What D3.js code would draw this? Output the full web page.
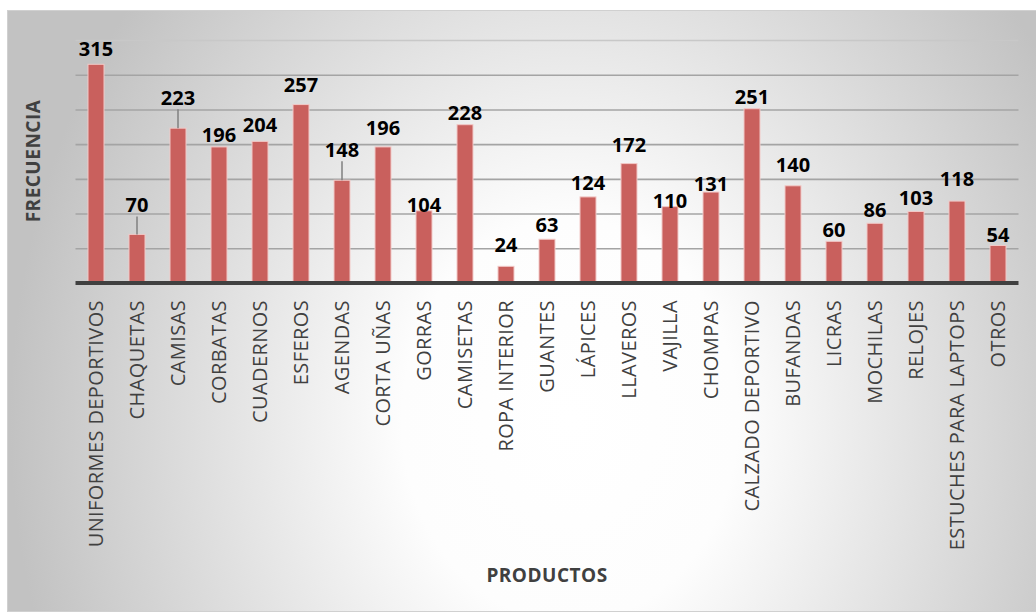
<!DOCTYPE html>
<html>
<head>
<meta charset="utf-8">
<script src="https://cdn.jsdelivr.net/npm/d3@7"></script>
<style>
  html, body { margin: 0; padding: 0; background: #ffffff; }
  svg { display: block; }
</style>
</head>
<body>
<svg id="chart" width="1036" height="614"></svg>
<script>
// Frecuencia de productos
const categories = [
  "UNIFORMES DEPORTIVOS", "CHAQUETAS", "CAMISAS", "CORBATAS", "CUADERNOS",
  "ESFEROS", "AGENDAS", "CORTA UÑAS", "GORRAS", "CAMISETAS", "ROPA INTERIOR",
  "GUANTES", "LÁPICES", "LLAVEROS", "VAJILLA", "CHOMPAS", "CALZADO DEPORTIVO",
  "BUFANDAS", "LICRAS", "MOCHILAS", "RELOJES", "ESTUCHES PARA LAPTOPS", "OTROS"
];
const frecuencia = [
  315, 70, 223, 196, 204, 257, 148, 196, 104, 228, 24,
  63, 124, 172, 110, 131, 251, 140, 60, 86, 103, 118, 54
];
const gridTicks = [50, 100, 150, 200, 250, 300, 350];
const xTitle = "PRODUCTOS";
const yTitle = "FRECUENCIA";

// layout
const plot = { left: 75.5, right: 1018.5, top: 40, bottom: 283 };

// distance (px) between bar top and label baseline; labels with a leader line are lifted further
const labelGap = {
  "UNIFORMES DEPORTIVOS": 8, "CHAQUETAS": 22, "CAMISAS": 23, "CORBATAS": 5,
  "CUADERNOS": 9, "ESFEROS": 13, "AGENDAS": 23, "CORTA UÑAS": 12, "GORRAS": -1,
  "CAMISETAS": 5, "ROPA INTERIOR": 14, "GUANTES": 7, "LÁPICES": 7, "LLAVEROS": 12,
  "VAJILLA": -1, "CHOMPAS": 1, "CALZADO DEPORTIVO": 5, "BUFANDAS": 14, "LICRAS": 4,
  "MOCHILAS": 6, "RELOJES": 6, "ESTUCHES PARA LAPTOPS": 15, "OTROS": 4
};
const withLeader = new Set(["CHAQUETAS", "CAMISAS", "AGENDAS"]);

const svg = d3.select("#chart");
const defs = svg.append("defs");

// chart area background: soft radial gradient
const grad = defs.append("radialGradient")
  .attr("id", "bg")
  .attr("gradientUnits", "userSpaceOnUse")
  .attr("cx", 570).attr("cy", 420).attr("r", 560)
  .attr("gradientTransform", "translate(570,420) scale(1,1.2) translate(-570,-420)");
grad.append("stop").attr("offset", 0).attr("stop-color", "#ffffff");
grad.append("stop").attr("offset", 0.3).attr("stop-color", "#fdfdfd");
grad.append("stop").attr("offset", 1).attr("stop-color", "#c2c2c2");

svg.append("rect")
  .attr("x", 7.5).attr("y", 10.5)
  .attr("width", 1040).attr("height", 601)
  .attr("fill", "url(#bg)")
  .attr("stroke", "#d0d0d0")
  .attr("stroke-width", 1);

const x = d3.scaleBand()
  .domain(categories)
  .range([plot.left, plot.right])
  .paddingInner(0.61)
  .paddingOuter(0.305);

const y = d3.scaleLinear()
  .domain([0, 350])
  .range([plot.bottom, plot.top]);

// horizontal gridlines
const grid = svg.append("g")
  .attr("transform", `translate(${plot.left},0)`)
  .call(d3.axisLeft(y).tickValues(gridTicks).tickSize(-(plot.right - plot.left)).tickFormat(""));
grid.select(".domain").remove();
grid.selectAll(".tick line")
  .attr("stroke", d => d === 350 ? "#c8c8c8" : "#a4a4a4")
  .attr("stroke-width", 1.6);

// bars
const data = categories.map((c, i) => ({ cat: c, val: frecuencia[i] }));

svg.append("g")
  .selectAll("rect")
  .data(data)
  .join("rect")
  .attr("x", d => x(d.cat))
  .attr("y", d => y(d.val))
  .attr("width", x.bandwidth())
  .attr("height", d => y(0) - y(d.val))
  .attr("fill", "#c9605d")
  .attr("stroke", "#f2c8c6")
  .attr("stroke-width", 1);

// category axis
const xAxis = svg.append("g")
  .attr("transform", `translate(0,${plot.bottom})`)
  .call(d3.axisBottom(x).tickSize(0).tickPadding(0));
xAxis.select(".domain").remove();
xAxis.selectAll(".tick text")
  .attr("transform", "translate(0,17) rotate(-90)")
  .attr("x", 0).attr("y", 0).attr("dy", "0.35em")
  .attr("text-anchor", "end")
  .attr("fill", "#404040")
  .style("font-family", "'Open Sans', sans-serif")
  .style("font-size", "20px")
  .style("letter-spacing", "0.4px");

svg.append("line")
  .attr("x1", plot.left).attr("x2", plot.right)
  .attr("y1", plot.bottom).attr("y2", plot.bottom)
  .attr("stroke", "#404040")
  .attr("stroke-width", 4);

// leader lines for lifted labels
svg.append("g")
  .selectAll("line")
  .data(data.filter(d => withLeader.has(d.cat)))
  .join("line")
  .attr("x1", d => x(d.cat) + x.bandwidth() / 2)
  .attr("x2", d => x(d.cat) + x.bandwidth() / 2)
  .attr("y1", d => y(d.val) - labelGap[d.cat] + 4)
  .attr("y2", d => y(d.val))
  .attr("stroke", "#808080")
  .attr("stroke-width", 1.5);

// value labels
svg.append("g")
  .selectAll("text")
  .data(data)
  .join("text")
  .attr("x", d => x(d.cat) + x.bandwidth() / 2)
  .attr("y", d => y(d.val) - labelGap[d.cat])
  .attr("text-anchor", "middle")
  .attr("fill", "#000000")
  .style("font-family", "'Open Sans', sans-serif")
  .style("font-weight", "bold")
  .style("font-size", "20px")
  .text(d => d.val);

// axis titles
svg.append("text")
  .attr("transform", `translate(33,161) rotate(-90)`)
  .attr("dy", "0.35em")
  .attr("text-anchor", "middle")
  .attr("fill", "#404040")
  .style("font-family", "'Open Sans', sans-serif")
  .style("font-weight", "bold")
  .style("font-size", "19px")
  .style("letter-spacing", "0.5px")
  .text(yTitle);

svg.append("text")
  .attr("x", 547).attr("y", 582)
  .attr("text-anchor", "middle")
  .attr("fill", "#404040")
  .style("font-family", "'Open Sans', sans-serif")
  .style("font-weight", "bold")
  .style("font-size", "19px")
  .style("letter-spacing", "0.5px")
  .text(xTitle);
</script>
</body>
</html>
